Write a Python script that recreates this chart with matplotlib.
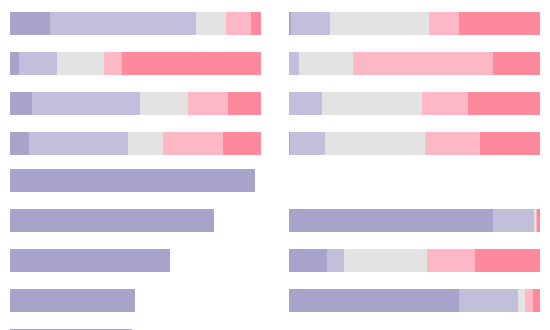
import matplotlib
matplotlib.use("Agg")
import matplotlib.pyplot as plt
import numpy as np

# Segment colours (dark purple, light purple, grey, light pink, pink-red)
colors = ["#a7a3cb", "#c1bfdb", "#e3e3e3", "#fdb7c5", "#fe889c"]

# Top block: four rows, stacked percentages
top_rows = ["r1", "r2", "r3", "r4"]
top_left = {
    "s1": [16.1, 3.9, 8.9, 7.9],
    "s2": [57.9, 14.9, 42.8, 39.2],
    "s3": [11.9, 18.8, 19.3, 14.0],
    "s4": [10.1, 7.0, 15.7, 23.9],
    "s5": [4.0, 55.4, 13.3, 15.0],
}
top_right = {
    "s1": [0.7, 0.0, 0.0, 0.5],
    "s2": [15.6, 4.0, 13.0, 13.7],
    "s3": [39.4, 21.6, 40.0, 40.1],
    "s4": [12.1, 55.7, 18.1, 21.7],
    "s5": [32.2, 18.7, 28.9, 24.0],
}

# Bottom block: five rows (last one cut off by the frame)
bottom_rows = ["r5", "r6", "r7", "r8", "r9"]
bottom_left = {
    "s1": [97.6, 81.2, 63.8, 50.0, 48.6],
}
bottom_right = {
    "s1": [0.0, 81.1, 15.0, 67.6, 0.0],
    "s2": [0.0, 16.2, 6.9, 23.4, 0.0],
    "s3": [0.0, 0.8, 33.0, 2.9, 0.0],
    "s4": [0.0, 0.7, 19.1, 3.1, 0.0],
    "s5": [0.0, 1.2, 26.0, 3.0, 0.0],
}

W, H = 550, 330
fig = plt.figure(figsize=(5.5, 3.3), dpi=100)

def px_axes(x0, x1, ytop, ybot):
    return fig.add_axes([x0 / W, 1 - ybot / H, (x1 - x0) / W, (ybot - ytop) / H])

def draw(ax, rows, data):
    y = np.arange(len(rows))
    left = np.zeros(len(rows))
    for i, key in enumerate(["s1", "s2", "s3", "s4", "s5"]):
        if key not in data:
            continue
        vals = np.array(data[key], dtype=float)
        ax.barh(y, vals, left=left, height=0.567, color=colors[i],
                edgecolor="none", linewidth=0)
        left += vals
    ax.set_xlim(0, 100)
    ax.set_ylim(len(rows) - 0.5, -0.5)
    ax.axis("off")

lx0, lx1 = 9.5, 261.0
rx0, rx1 = 289.0, 540.3

draw(px_axes(lx0, lx1, 3.6, 163.6), top_rows, top_left)
draw(px_axes(rx0, rx1, 3.6, 163.6), top_rows, top_right)
draw(px_axes(lx0, lx1, 160.6, 360.6), bottom_rows, bottom_left)
draw(px_axes(rx0, rx1, 160.6, 360.6), bottom_rows, bottom_right)

fig.savefig("out.png", dpi=100, facecolor="white")
